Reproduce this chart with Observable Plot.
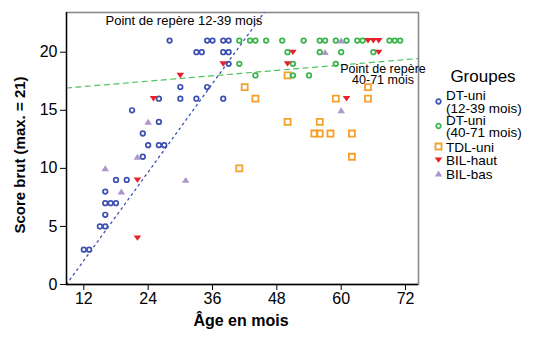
<!DOCTYPE html>
<html><head><meta charset="utf-8">
<script src="https://cdn.jsdelivr.net/npm/d3@7"></script>
<script src="https://cdn.jsdelivr.net/npm/@observablehq/plot@0.6"></script>
<style>
body{margin:0;background:#fff;}
#chart{position:relative;width:540px;height:339px;}
svg{font-family:"Liberation Sans",Arial,sans-serif;}
</style>
</head><body><div id="chart"></div>
<script>
// ---- Data ----
const groupNames = ["DT-uni\n(12-39 mois)", "DT-uni\n(40-71 mois)", "TDL-uni", "BIL-haut", "BIL-bas"];

const dtYoungAge   = [12,13,15,16,16,16,17,18,16,18,20,23,24,26,27,23,26,21,26,30,33,38,30,35,39,33,34,38,39,28,35,36,38,39];
const dtYoungScore = [3,3,5,5,6,7,7,7,8,9,9,11,12,12,12,13,14,15,16,16,16,16,17,17,19,20,20,20,20,21,21,21,21,21];

const dtOldAge   = [41,43,44,46,49,53,56,57,59,61,63,64,69,70,71,50,56,60,66,41,51,59,44,51,54];
const dtOldScore = [21,21,21,21,21,21,21,21,21,21,21,21,21,21,21,20,20,20,20,19,19,19,18,18,18];

const tdlAge   = [41,42,44,50,50,55,56,56,58,59,62,62,65,65];
const tdlScore = [10,17,16,18,14,13,13,14,13,16,13,11,17,16];

const bilHautAge   = [22,22,25,30,38,50,51,61,65,66,67,67];
const bilHautScore = [4,9,16,18,19,19,20,16,21,21,21,20];

const bilBasAge   = [16,19,22,24,31,57,60,60];
const bilBasScore = [10,8,11,14,9,20,21,15];

// reference lines ("points de repère"): score = intercept + slope * age
const refNames      = ["Point de repère 12-39 mois", "Point de repère\n40-71 mois"];
const refIntercepts = [-5.556, 16.58];
const refSlopes     = [0.635, 0.0387];
const refLabelAge   = [45.3, 67.8];
const refLabelScore = [22.74, 18.02];

const xTicks = [12,24,36,48,60,72];
const yTicks = [0,5,10,15,20];
const xDomain = [8.77, 74.42];
const yDomain = [0, 23.42];

const colors = ["#3b50b2", "#37b54a", "#f5a02c", "#e62129", "#ae96cc"];

// ---- Build tables ----
const toRows = (ages, scores, g) => ages.map((a, i) => ({age: a, score: scores[i], g}));
const rowsYoung = toRows(dtYoungAge, dtYoungScore, 0);
const rowsOld = toRows(dtOldAge, dtOldScore, 1);
const rowsTdl = toRows(tdlAge, tdlScore, 2);
const rowsHaut = toRows(bilHautAge, bilHautScore, 3);
const rowsBas = toRows(bilBasAge, bilBasScore, 4);

const refLines = refSlopes.flatMap((s, i) => xDomain.map(a => ({age: a, score: refIntercepts[i] + s * a, k: i})));
const refLabels = refNames.map((t, i) => ({text: t, age: refLabelAge[i], score: refLabelScore[i]}));

const triDown = {draw(ctx, size) { const r = Math.sqrt(size / Math.PI); const w = r * 1.05;
  ctx.moveTo(-w, -r * 0.72); ctx.lineTo(w, -r * 0.72); ctx.lineTo(0, r * 0.78); ctx.closePath(); }};
const triUp = {draw(ctx, size) { const r = Math.sqrt(size / Math.PI); const w = r * 1.05;
  ctx.moveTo(-w, r * 0.8); ctx.lineTo(w, r * 0.8); ctx.lineTo(0, -r * 0.85); ctx.closePath(); }};

const W = 540, H = 339;
const plot = Plot.plot({
  width: W, height: H,
  marginLeft: 66, marginRight: 122, marginTop: 12, marginBottom: 55,
  x: {domain: xDomain},
  y: {domain: yDomain},
  style: {fontFamily: "'Liberation Sans', Arial, sans-serif", background: "#fff", color: "#000"},
  marks: [
    Plot.frame({stroke: "#8a8a8a", strokeWidth: 1.6}),
    Plot.line(refLines.filter(d => d.k === 1), {x: "age", y: "score", stroke: "#4cc35c", strokeWidth: 1.2, strokeDasharray: "5,4.5", clip: true}),
    Plot.line(refLines.filter(d => d.k === 0), {x: "age", y: "score", stroke: colors[0], strokeWidth: 1.3, strokeDasharray: "1.8,4", clip: true}),
    Plot.dot(rowsTdl, {x: "age", y: "score", symbol: "square", r: 3.4, stroke: colors[2], strokeWidth: 1.8, fill: "none"}),
    Plot.dot(rowsOld, {x: "age", y: "score", symbol: "circle", r: 2.3, stroke: colors[1], strokeWidth: 1.7, fill: "none"}),
    Plot.dot(rowsYoung, {x: "age", y: "score", symbol: "circle", r: 2.3, stroke: colors[0], strokeWidth: 1.7, fill: "none"}),
    Plot.dot(rowsBas, {x: "age", y: "score", symbol: triUp, r: 3.6, fill: colors[4], stroke: "none"}),
    Plot.dot(rowsHaut, {x: "age", y: "score", symbol: triDown, r: 3.6, fill: colors[3], stroke: "none"}),
    Plot.ruleX([xDomain[0]], {stroke: "#000", strokeWidth: 1.3}),
    Plot.ruleY([0], {stroke: "#000", strokeWidth: 1.3}),
    Plot.axisX({ticks: xTicks, tickSize: 6, tickPadding: 2, fontSize: 16, label: null, tickFormat: d => d}),
    Plot.axisY({ticks: yTicks, tickSize: 6, tickPadding: 3, fontSize: 16, label: null, tickFormat: d => d}),
    Plot.text(refLabels.slice(0, 1), {x: "age", y: "score", text: "text", textAnchor: "end", fontSize: 13, fill: "#000"}),
    Plot.text(refLabels.slice(1), {x: "age", y: "score", text: "text", textAnchor: "middle", lineAnchor: "middle", lineHeight: 0.88, fontSize: 12.5, fill: "#000"})
  ]
});
document.getElementById("chart").appendChild(plot);

// ---- Axis titles and legend ----
const svg = d3.select(plot);
svg.append("text").attr("x", 241).attr("y", 326).attr("text-anchor", "middle")
  .attr("font-size", 16).attr("font-weight", "bold").text("Âge en mois");
svg.append("text").attr("transform", "translate(25,155) rotate(-90)").attr("text-anchor", "middle")
  .attr("font-size", 15).attr("font-weight", "bold").text("Score brut (max. = 21)");

const lg = svg.append("g").attr("text-anchor", "start");
lg.append("text").attr("x", 483).attr("y", 82).attr("text-anchor", "middle").attr("font-size", 17).text("Groupes");
const legendRows = [101.5, 126, 146.5, 160, 173.5];
const legendSymbols = [d3.symbolCircle, d3.symbolCircle, d3.symbolSquare, triDown, triUp];
const legendR = [2.3, 2.3, 3.4, 3.6, 3.6];
groupNames.forEach((name, i) => {
  const y = legendRows[i];
  const isOpen = i < 3;
  const sym = d3.symbol(legendSymbols[i], Math.PI * legendR[i] * legendR[i]);
  lg.append("path").attr("d", sym()).attr("transform", `translate(438.5,${y})`)
    .attr("fill", isOpen ? "none" : colors[i]).attr("stroke", isOpen ? colors[i] : "none")
    .attr("stroke-width", i === 2 ? 1.8 : 1.7);
  const lines = name.split("\n");
  const t = lg.append("text").attr("font-size", 13.5).attr("x", 446).attr("text-anchor", "start");
  lines.forEach((ln, j) => {
    t.append("tspan").attr("x", 446)
      .attr("y", y + 5 + (j - (lines.length - 1) / 2) * 12.8).text(ln);
  });
});
</script>
</body></html>
